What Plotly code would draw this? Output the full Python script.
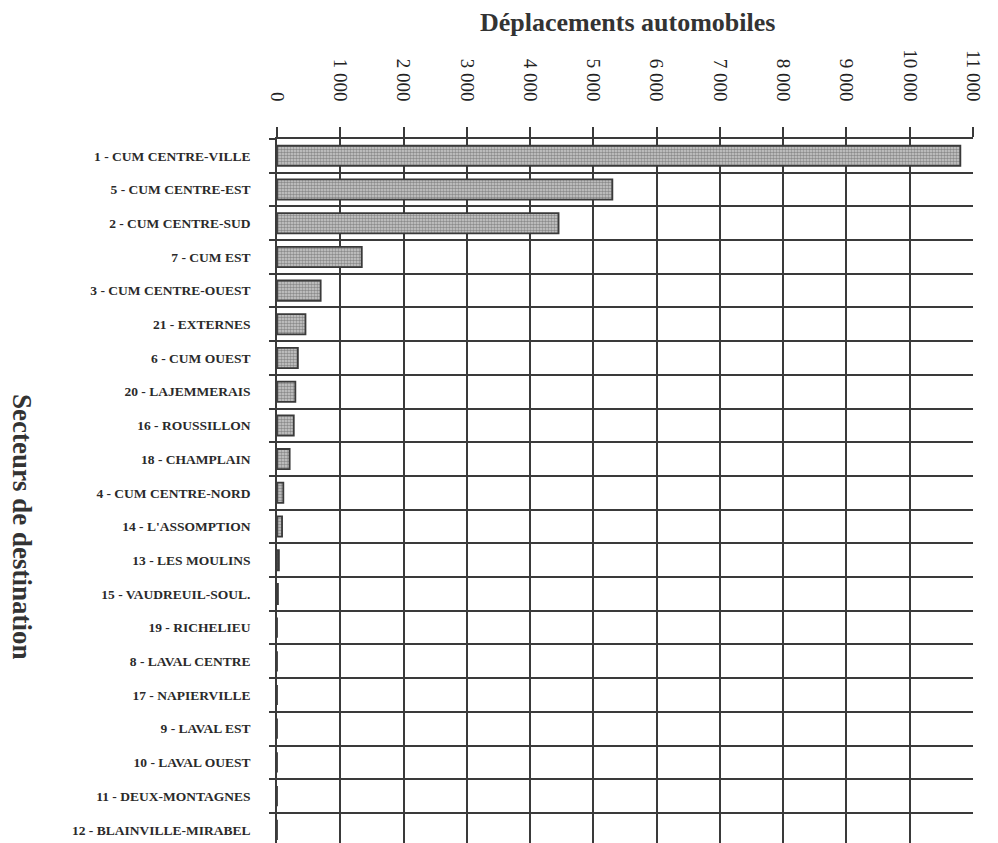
import plotly.graph_objects as go

categories = [
    "1 - CUM CENTRE-VILLE", "5 - CUM CENTRE-EST", "2 - CUM CENTRE-SUD", "7 - CUM EST",
    "3 - CUM CENTRE-OUEST", "21 - EXTERNES", "6 - CUM OUEST", "20 - LAJEMMERAIS",
    "16 - ROUSSILLON", "18 - CHAMPLAIN", "4 - CUM CENTRE-NORD", "14 - L'ASSOMPTION",
    "13 - LES MOULINS", "15 - VAUDREUIL-SOUL.", "19 - RICHELIEU", "8 - LAVAL CENTRE",
    "17 - NAPIERVILLE", "9 - LAVAL EST", "10 - LAVAL OUEST", "11 - DEUX-MONTAGNES",
    "12 - BLAINVILLE-MIRABEL",
]
deplacements = [10800, 5300, 4450, 1340, 690, 450, 330, 290, 265, 200, 100, 80,
                30, 15, 0, 0, 0, 0, 0, 0, 0]
x_tick_values = [0, 1000, 2000, 3000, 4000, 5000, 6000, 7000, 8000, 9000, 10000, 11000]
x_tick_labels = ["0", "1 000", "2 000", "3 000", "4 000", "5 000", "6 000", "7 000",
                 "8 000", "9 000", "10 000", "11 000"]

positions = list(range(len(categories)))
boundaries = [p - 0.5 for p in positions] + [len(categories) - 0.5]

# the page body adds an 8 px offset; margins compensate for it
W, H = 998, 843
ML, MR, MT, MB = 269, 33, 131, 0
ink = "#3a3a3a"

fig = go.Figure(go.Bar(
    x=deplacements, y=positions, orientation="h", width=0.6,
    marker=dict(color="#c0c0c0",
                line=dict(color=ink, width=1.8),
                pattern=dict(shape=".", fgcolor="#4a4a4a", bgcolor="#cdcdcd",
                             size=3, solidity=0.55)),
))

fig.update_layout(
    width=W, height=H,
    margin=dict(l=ML, r=MR, t=MT, b=MB, autoexpand=False),
    paper_bgcolor="white", plot_bgcolor="white",
    showlegend=False,
    font=dict(family="Liberation Serif", color="#222"),
    xaxis=dict(
        side="top", range=[0, 11000], tickvals=x_tick_values, ticktext=x_tick_labels,
        tickangle=90, ticks="outside", ticklen=10, tickwidth=1.5, tickcolor=ink,
        tickfont=dict(size=19, family="Liberation Serif", color="#222"),
        ticklabelstandoff=19, automargin=False,
        showgrid=True, gridcolor=ink, gridwidth=1.6,
        showline=True, linecolor=ink, linewidth=1.6, mirror=True, zeroline=False,
    ),
    yaxis=dict(
        range=[20.63, -0.5], tickvals=positions,
        ticktext=[f"<b>{c}</b>" for c in categories],
        ticks="", showgrid=False, automargin=False,
        tickfont=dict(size=13.5, family="Liberation Serif", color="#2a2a2a"),
        ticklabelstandoff=22,
        showline=True, linecolor=ink, linewidth=1.6, zeroline=False,
        minor=dict(tickvals=boundaries, showgrid=True, gridcolor=ink, gridwidth=1.6,
                   ticks="outside", ticklen=6, tickcolor=ink, tickwidth=1.5),
    ),
)

pw = W - ML - MR
ph = H - MT - MB
fig.add_annotation(
    text="<b>Déplacements automobiles</b>", xref="paper", yref="paper",
    x=(619 - ML) / pw, y=(H - 14 - MB) / ph,
    xanchor="center", yanchor="middle", showarrow=False,
    font=dict(size=26, family="Liberation Serif", color="#333"),
)
fig.add_annotation(
    text="<b>Secteurs de destination</b>", xref="paper", yref="paper",
    x=(14 - ML) / pw, y=(H - 519 - MB) / ph,
    xanchor="center", yanchor="middle", showarrow=False, textangle=90,
    font=dict(size=27, family="Liberation Serif", color="#333"),
)

fig.write_html("out.html")
